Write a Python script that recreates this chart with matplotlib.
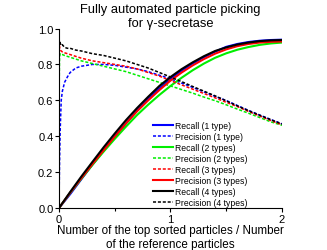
import matplotlib
matplotlib.use("Agg")
import matplotlib.pyplot as plt
from matplotlib.ticker import MultipleLocator

plt.rcParams["font.family"] = ["Liberation Sans", "DejaVu Sans"]

# recall curves, sampled every 0.1
recall_x = [0.0, 0.1, 0.2, 0.3, 0.4, 0.5, 0.6, 0.7, 0.8, 0.9, 1.0,
            1.1, 1.2, 1.3, 1.4, 1.5, 1.6, 1.7, 1.8, 1.9, 2.0]
recall_1 = [0.0, 0.077, 0.16, 0.242, 0.32, 0.398, 0.471, 0.543, 0.608, 0.666, 0.72,
            0.766, 0.806, 0.841, 0.871, 0.898, 0.914, 0.925, 0.932, 0.936, 0.938]
recall_2 = [0.0, 0.084, 0.163, 0.24, 0.314, 0.385, 0.453, 0.518, 0.576, 0.63, 0.68,
            0.726, 0.768, 0.805, 0.837, 0.862, 0.882, 0.897, 0.909, 0.917, 0.922]
recall_3 = [0.0, 0.085, 0.166, 0.245, 0.322, 0.398, 0.471, 0.539, 0.6, 0.657, 0.71,
            0.755, 0.795, 0.83, 0.86, 0.884, 0.902, 0.914, 0.922, 0.926, 0.928]
recall_4 = [0.0, 0.089, 0.175, 0.257, 0.338, 0.415, 0.489, 0.557, 0.62, 0.68, 0.73,
            0.774, 0.812, 0.846, 0.875, 0.895, 0.911, 0.922, 0.93, 0.934, 0.936]

# precision curves, denser near zero where they are noisy
prec_x = [0.0, 0.005, 0.01, 0.02, 0.03, 0.05, 0.075, 0.1, 0.15,
          0.2, 0.3, 0.4, 0.5, 0.6, 0.7, 0.8, 0.9, 1.0,
          1.1, 1.2, 1.3, 1.4, 1.5, 1.6, 1.7, 1.8, 1.9, 2.0]
prec_1 = [0.02, 0.25, 0.42, 0.60, 0.65, 0.70, 0.73, 0.755, 0.78,
          0.79, 0.80, 0.80, 0.795, 0.785, 0.775, 0.76, 0.74, 0.72,
          0.696, 0.672, 0.647, 0.622, 0.599, 0.571, 0.544, 0.518, 0.493, 0.469]
prec_2 = [0.60, 0.84, 0.86, 0.855, 0.855, 0.85, 0.845, 0.84, 0.83,
          0.82, 0.805, 0.79, 0.775, 0.76, 0.74, 0.72, 0.70, 0.68,
          0.66, 0.64, 0.618, 0.598, 0.575, 0.551, 0.528, 0.504, 0.48, 0.461]
prec_3 = [0.96, 0.90, 0.88, 0.875, 0.87, 0.865, 0.86, 0.855, 0.845,
          0.835, 0.82, 0.81, 0.80, 0.79, 0.775, 0.755, 0.735, 0.71,
          0.686, 0.662, 0.638, 0.614, 0.589, 0.565, 0.538, 0.513, 0.487, 0.464]
prec_4 = [0.88, 0.93, 0.92, 0.905, 0.91, 0.895, 0.89, 0.89, 0.88,
          0.875, 0.86, 0.85, 0.835, 0.82, 0.80, 0.78, 0.755, 0.73,
          0.704, 0.677, 0.651, 0.625, 0.597, 0.569, 0.542, 0.517, 0.492, 0.468]

labels = ["Recall (1 type)", "Precision (1 type)",
          "Recall (2 types)", "Precision (2 types)",
          "Recall (3 types)", "Precision (3 types)",
          "Recall (4 types)", "Precision (4 types)"]
colors = ["#0000ff", "#00ee00", "#ff0000", "#000000"]

fig = plt.figure(figsize=(3.27, 2.51), dpi=100)
ax = fig.add_axes([0.1804, 0.1673, 0.682, 0.715])

handles = []
for rec, prec, c in zip([recall_1, recall_2, recall_3, recall_4],
                        [prec_1, prec_2, prec_3, prec_4], colors):
    hr, = ax.plot(recall_x, rec, color=c, lw=1.5)
    hp, = ax.plot(prec_x, prec, color=c, lw=1.1, dashes=(2, 1.2))
    handles.append([hr, hp])

# the original legend swaps the line styles of the 3-type pair
leg_handles = [handles[0][0], handles[0][1], handles[1][0], handles[1][1],
               handles[2][1], handles[2][0], handles[3][0], handles[3][1]]
ax.legend(leg_handles, labels, loc="upper left", frameon=False,
          bbox_to_anchor=(153 / 327, 1 - 122 / 251), bbox_transform=fig.transFigure,
          fontsize=6.2, handlelength=2.3, handletextpad=0.3, labelspacing=0.24,
          borderpad=0, borderaxespad=0)

ax.set_xlim(0, 2)
ax.set_ylim(0, 1)
ax.xaxis.set_major_locator(MultipleLocator(1))
ax.xaxis.set_minor_locator(MultipleLocator(0.5))
ax.yaxis.set_major_locator(MultipleLocator(0.2))
ax.yaxis.set_major_formatter(plt.FormatStrFormatter("%.1f"))
ax.tick_params(direction="out", length=3, width=0.8, labelsize=8, pad=1)
ax.tick_params(which="minor", length=2, width=0.8)
for s in ("top", "right"):
    ax.spines[s].set_visible(False)
for s in ("left", "bottom"):
    ax.spines[s].set_linewidth(0.8)

ax.set_xlabel("Number of the top sorted particles / Number\nof the reference particles",
              fontsize=8.4, labelpad=0, linespacing=1.3)
ax.set_title("Fully automated particle picking\nfor γ-secretase",
             fontsize=9.3, pad=2, linespacing=1.2)

fig.savefig("out.png", dpi=100)
